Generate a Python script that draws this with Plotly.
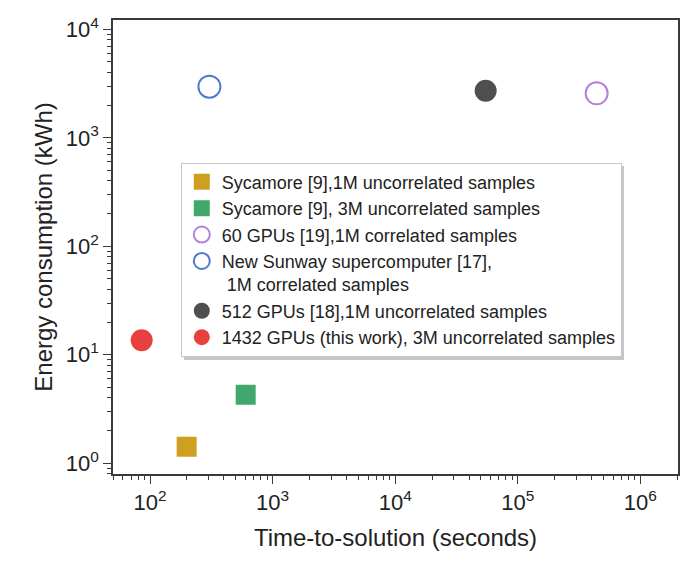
import plotly.graph_objects as go

# Energy vs time-to-solution, one point per method
names = [
    'Sycamore [9],1M uncorrelated samples',
    'Sycamore [9], 3M uncorrelated samples',
    '60 GPUs [19],1M correlated samples',
    'New Sunway supercomputer [17],<br> 1M correlated samples',
    '512 GPUs [18],1M uncorrelated samples',
    '1432 GPUs (this work), 3M uncorrelated samples',
]
time_s = [199, 603, 440000, 305, 54700, 85.5]
energy_kwh = [1.42, 4.28, 2570, 2960, 2720, 13.6]

symbols = ['square', 'square', 'circle-open', 'circle-open', 'circle', 'circle']
colors = ['#cf9f1f', '#3fa86a', '#b283dc', '#4a7bcc', '#4f4f4f', '#e8403f']
sizes = [20, 20, 22, 22, 22, 22]

x_tickvals = [1e2, 1e3, 1e4, 1e5, 1e6]
x_ticktext = ['10<sup>2</sup>', '10<sup>3</sup>', '10<sup>4</sup>', '10<sup>5</sup>', '10<sup>6</sup>']
y_tickvals = [1, 10, 100, 1000, 10000]
y_ticktext = ['10<sup>0</sup>', '10<sup>1</sup>', '10<sup>2</sup>', '10<sup>3</sup>', '10<sup>4</sup>']

FONT = 'Arial, Liberation Sans, Helvetica, sans-serif'

fig = go.Figure()
for n, xv, yv, s, c, sz in zip(names, time_s, energy_kwh, symbols, colors, sizes):
    fig.add_trace(go.Scatter(
        x=[xv], y=[yv], mode='markers', name=n,
        marker=dict(symbol=s, size=sz, color=c,
                    line=dict(width=2 if 'open' in s else 0, color=c))
    ))

# soft drop shadow behind the legend box
fig.add_shape(type='rect', xref='paper', yref='paper',
              x0=0.1257, x1=0.9044, y0=0.2511, y1=0.6784,
              fillcolor='#c6c6c6', line=dict(width=0), layer='above')

axis_common = dict(
    type='log', showgrid=False, zeroline=False, automargin=False,
    showline=True, linecolor='#3a3a3a', linewidth=1.5, mirror=True,
    ticks='outside', ticklen=8, tickwidth=1.3, tickcolor='#3a3a3a',
    minor=dict(ticks='outside', ticklen=4, tickwidth=1, tickcolor='#3a3a3a', dtick='D1'),
    tickfont=dict(size=22, color='#222', family=FONT),
)

fig.update_xaxes(**axis_common, range=[1.698, 6.307],
                 tickvals=x_tickvals, ticktext=x_ticktext,
                 title=dict(text='Time-to-solution (seconds)', font=dict(size=24, color='#222', family=FONT)))
fig.update_yaxes(**axis_common, range=[-0.099, 4.086],
                 tickvals=y_tickvals, ticktext=y_ticktext,
                 title=dict(text='Energy consumption (kWh)', font=dict(size=24, color='#222', family=FONT),
                            standoff=6))

# page body adds 8px, so the figure is 8px smaller on each side
fig.update_layout(
    width=692, height=554,
    margin=dict(l=105, r=22, t=12, b=88),
    paper_bgcolor='white', plot_bgcolor='white',
    font=dict(family=FONT, color='#222'),
    legend=dict(x=0.12, y=0.686, xanchor='left', yanchor='top',
                bgcolor='white', bordercolor='#c8c8c8', borderwidth=1,
                font=dict(size=18, color='#222', family=FONT),
                valign='top', tracegroupgap=0, itemwidth=30),
    showlegend=True,
)

fig.write_html('out.html')
